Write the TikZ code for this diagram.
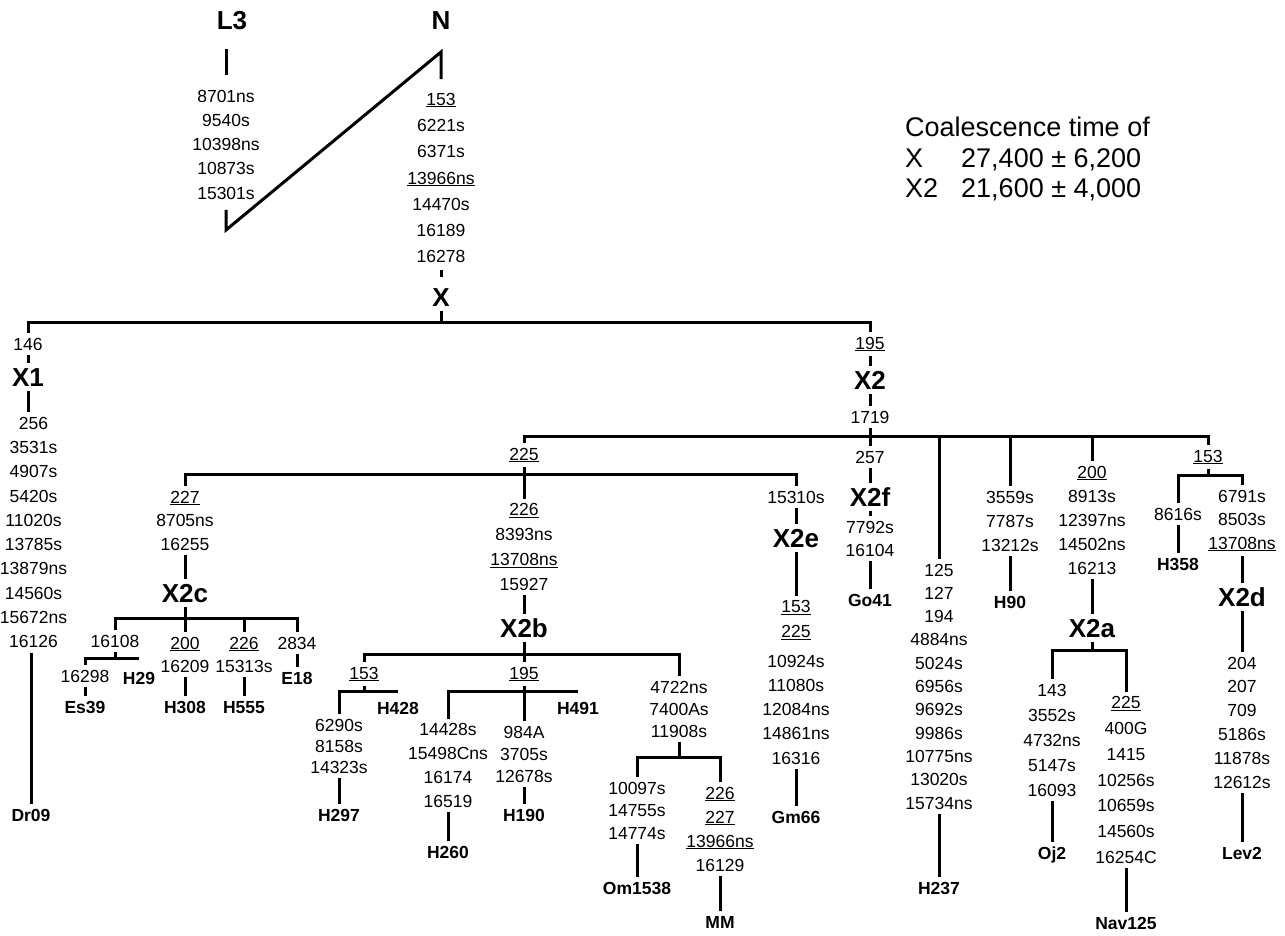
\documentclass[tikz,border=0pt]{standalone}
\usepackage{fontspec}
\setmainfont{Liberation Sans}

\begin{document}
\begin{tikzpicture}[x=1pt, y=-1pt,
    treeline/.style={line width=3pt},
    mut/.style={font=\fontsize{17.5}{#1}\selectfont, align=center, inner sep=4.5pt},
    mut/.default=24,
    hap/.style={font=\fontsize{17.5}{20}\selectfont\bfseries, inner sep=4.5pt, text height=12.6pt, text depth=0pt},
    clade/.style={font=\fontsize{26}{30}\selectfont\bfseries, inner sep=4.5pt, text height=18.6pt, text depth=0pt},
    legend/.style={font=\fontsize{27}{30}\selectfont, anchor=west, inner sep=0pt, text height=19.4pt, text depth=0pt}]
  \useasboundingbox (0,0) rectangle (1285,936);

  % Roots L3 and N
  \node[clade] (L3) at (232,20) {L3};
  \node[clade] (N) at (441,20) {N};
  \node[mut=24.25] (L3mut) at (226,144.5) {8701ns\\9540s\\10398ns\\10873s\\15301s};
  \node[mut=26.3] (Nmut) at (441,178) {\underline{153}\\6221s\\6371s\\\underline{13966ns}\\14470s\\16189\\16278};
  \coordinate (L3end) at (226,230);
  \coordinate (Ntop) at (441,52);
  \draw[treeline, shorten <=15pt, shorten >=10pt] (L3.south -| L3mut) -- (L3mut);
  \draw[treeline, shorten <=6pt, shorten >=9pt] (L3mut) -- (L3end) -- (Ntop) -- (Nmut);

  % Haplogroup X
  \node[clade] (X) at (441,297) {X};
  \coordinate (jX) at (441,322);
  \draw[treeline, shorten <=2pt, shorten >=6pt] (Nmut) -- (X);
  \draw[treeline] (X) -- (jX);
  \node[mut] (m146) at (28,344) {146};
  \node[mut] (m195) at (870,344) {\underline{195}};
  \draw[treeline] (m146) |- (jX) -| (m195);

  % X1
  \node[clade] (X1) at (28,377) {X1};
  \node[mut=24.3] (X1mut) at (33.5,532.5) {256\\3531s\\4907s\\5420s\\11020s\\13785s\\13879ns\\14560s\\15672ns\\16126};
  \node[hap] (Dr09) at (31,815) {Dr09};
  \draw[treeline] (m146) -- (X1);
  \draw[treeline] (X1) -- (X1 |- X1mut.north);
  \draw[treeline] (X1mut.south -| Dr09) -- (Dr09);

  % X2 and X2f
  \node[clade] (X2) at (870,380) {X2};
  \node[mut] (m1719) at (870,417) {1719};
  \coordinate (jX2) at (870,436);
  \node[mut] (m257) at (870,457) {257};
  \node[clade] (X2f) at (870,497) {X2f};
  \node[mut=23] (X2fmut) at (870,538.5) {7792s\\16104};
  \node[hap] (Go41) at (870,600) {Go41};
  \draw[treeline] (m195) -- (X2) -- (m1719) -- (m257) -- (X2f) -- (X2fmut) -- (Go41);

  \node[mut] (m225) at (524,455) {\underline{225}};
  \node[mut] (m153r) at (1208,457) {\underline{153}};
  \draw[treeline] (m225) |- (jX2) -| (m153r);

  % H237 and H90
  \node[mut=23.3] (H237mut) at (939,686.5) {125\\127\\194\\4884ns\\5024s\\6956s\\9692s\\9986s\\10775ns\\13020s\\15734ns};
  \node[hap] (H237) at (939,888) {H237};
  \draw[treeline] (jX2 -| H237mut) -- (H237mut) -- (H237);
  \node[mut=24] (H90mut) at (1010,521) {3559s\\7787s\\13212s};
  \node[hap] (H90) at (1010,602) {H90};
  \draw[treeline] (jX2 -| H90mut) -- (H90mut) -- (H90);

  % X2a
  \node[mut=24] (X2amut) at (1092,520) {\underline{200}\\8913s\\12397ns\\14502ns\\16213};
  \node[clade] (X2a) at (1092,628) {X2a};
  \coordinate (jX2a) at (1092,650);
  \draw[treeline] (jX2 -| X2amut) -- (X2amut) -- (X2a) -- (jX2a);
  \node[mut=25] (Oj2mut) at (1052,740) {143\\3552s\\4732ns\\5147s\\16093};
  \node[hap] (Oj2) at (1052,853) {Oj2};
  \node[mut=25.7] (Nav125mut) at (1126,780) {\underline{225}\\400G\\1415\\10256s\\10659s\\14560s\\16254C};
  \node[hap] (Nav125) at (1126,923) {Nav125};
  \draw[treeline] (Oj2mut) |- (jX2a) -| (Nav125mut);
  \draw[treeline] (Oj2mut) -- (Oj2);
  \draw[treeline] (Nav125mut) -- (Nav125);

  % H358 and X2d
  \coordinate (j153r) at (1208,475);
  \draw[treeline] (m153r) -- (j153r);
  \node[mut] (H358mut) at (1178,514) {8616s};
  \node[hap] (H358) at (1178,564) {H358};
  \node[mut=23.5] (X2dmut) at (1242,520.5) {6791s\\8503s\\\underline{13708ns}};
  \node[clade] (X2d) at (1242,597) {X2d};
  \node[mut=23.8] (Lev2mut) at (1242,722.5) {204\\207\\709\\5186s\\11878s\\12612s};
  \node[hap] (Lev2) at (1242,853) {Lev2};
  \draw[treeline] (H358mut) |- (j153r) -| (X2dmut);
  \draw[treeline] (H358mut) -- (H358);
  \draw[treeline] (X2dmut) -- (X2d) -- (Lev2mut) -- (Lev2);

  % Split at 225: X2c, X2b, X2e
  \coordinate (j225) at (524,474);
  \node[mut=23.5] (X2cmut) at (185,520.5) {\underline{227}\\8705ns\\16255};
  \node[mut] (X2etop) at (796,497) {15310s};
  \draw[treeline] (X2cmut) |- (j225) -| (X2etop);

  % X2e
  \node[clade] (X2e) at (796,538) {X2e};
  \node[mut=24.2] (Gm66mut) at (796,682.5) {\underline{153}\\\underline{225}\\[6pt]10924s\\11080s\\12084ns\\14861ns\\16316};
  \node[hap] (Gm66) at (796,817) {Gm66};
  \draw[treeline] (X2etop) -- (X2e) -- (Gm66mut) -- (Gm66);

  % X2b
  \node[mut=24.7] (X2bmut) at (524,547) {\underline{226}\\8393ns\\\underline{13708ns}\\15927};
  \node[clade] (X2b) at (524,628) {X2b};
  \coordinate (jX2b) at (524,654);
  \draw[treeline] (m225) -- (X2bmut) -- (X2b) -- (jX2b);
  \node[mut] (m153b) at (364,674) {\underline{153}};
  \node[mut] (m195b) at (524,674) {\underline{195}};
  \node[mut=22] (X2bR) at (679,709) {4722ns\\7400As\\11908s};
  \draw[treeline] (m153b) |- (jX2b) -| (X2bR);
  \draw[treeline] (jX2b) -- (m195b);

  \coordinate (j153b) at (364,691);
  \node[mut=21] (H297mut) at (339,746) {6290s\\8158s\\14323s};
  \node[hap] (H428) at (398,708) {H428};
  \node[hap] (H297) at (339,815) {H297};
  \draw[treeline] (m153b) -- (j153b);
  \draw[treeline] (H297mut) |- (j153b) -- (j153b -| H428);
  \draw[treeline] (H297mut) -- (H297);

  \coordinate (j195b) at (524,691);
  \node[mut=23.7] (H260mut) at (448,765.5) {14428s\\15498Cns\\16174\\16519};
  \node[mut=22] (H190mut) at (524,754) {984A\\3705s\\12678s};
  \node[hap] (H260) at (448,852) {H260};
  \node[hap] (H190) at (524,815) {H190};
  \node[hap] (H491) at (578,708) {H491};
  \draw[treeline] (m195b) -- (H190mut) -- (H190);
  \draw[treeline] (H260mut) |- (j195b) -- (j195b -| H491);
  \draw[treeline] (H260mut) -- (H260);

  \coordinate (j4722) at (679,757);
  \node[mut=22.5] (Om1538mut) at (637,810.5) {10097s\\14755s\\14774s};
  \node[mut=24] (MMmut) at (720,829) {\underline{226}\\\underline{227}\\\underline{13966ns}\\16129};
  \node[hap] (Om1538) at (637,888) {Om1538};
  \node[hap] (MM) at (720,922) {MM};
  \draw[treeline] (X2bR) -- (j4722);
  \draw[treeline] (Om1538mut) |- (j4722) -| (MMmut);
  \draw[treeline] (Om1538mut) -- (Om1538);
  \draw[treeline] (MMmut) -- (MM);

  % X2c
  \node[clade] (X2c) at (185,593) {X2c};
  \coordinate (jX2c) at (185,618);
  \draw[treeline] (X2cmut) -- (X2c) -- (jX2c);
  \node[mut] (m16108) at (115,641) {16108};
  \node[mut=23] (H308mut) at (185,654.5) {\underline{200}\\16209};
  \node[mut=23] (H555mut) at (244,654.5) {\underline{226}\\15313s};
  \node[mut] (m2834) at (297,643) {2834};
  \draw[treeline] (m16108) |- (jX2c) -| (m2834);
  \draw[treeline] (jX2c) -- (H308mut);
  \draw[treeline] (jX2c -| H555mut) -- (H555mut);
  \node[hap] (H308) at (185,707) {H308};
  \node[hap] (H555) at (244,707) {H555};
  \node[hap] (E18) at (297,678) {E18};
  \draw[treeline] (H308mut) -- (H308);
  \draw[treeline] (H555mut) -- (H555);
  \draw[treeline] (m2834) -- (E18);

  \coordinate (j16108) at (115,658);
  \node[mut] (m16298) at (85,676) {16298};
  \node[hap] (Es39) at (85,707) {Es39};
  \node[hap] (H29) at (139,678) {H29};
  \draw[treeline] (m16108) -- (j16108);
  \draw[treeline] (m16298) |- (j16108) -- (j16108 -| H29);
  \draw[treeline] (m16298) -- (Es39);

  % Coalescence times
  \node[legend] (leg) at (905,127) {Coalescence time of};
  \node[legend] (legX) at (905,158) {X};
  \node[legend] (legXt) at (961,158) {27,400 ± 6,200};
  \node[legend] (legXii) at (905,188) {X2};
  \node[legend] (legXiit) at (961,188) {21,600 ± 4,000};
\end{tikzpicture}
\end{document}
